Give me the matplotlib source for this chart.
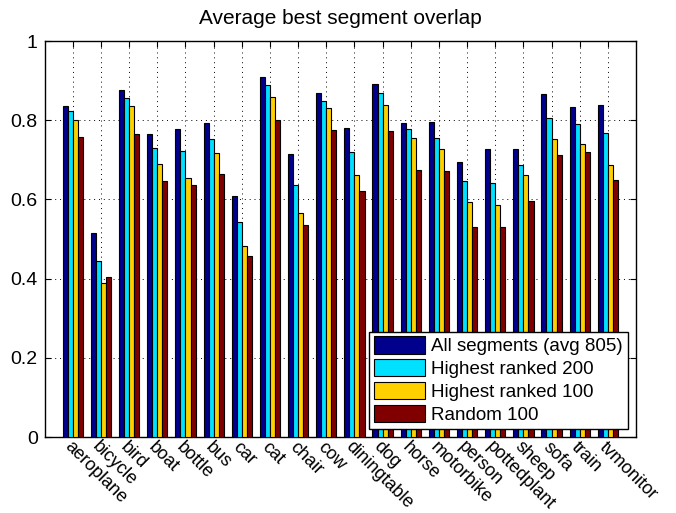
import numpy as np
import matplotlib
matplotlib.use("Agg")
import matplotlib.pyplot as plt

plt.rcParams['font.family'] = ['Liberation Sans', 'DejaVu Sans']

categories = ["aeroplane", "bicycle", "bird", "boat", "bottle", "bus", "car",
              "cat", "chair", "cow", "diningtable", "dog", "horse", "motorbike",
              "person", "pottedplant", "sheep", "sofa", "train", "tvmonitor"]

all_segments = [0.835, 0.514, 0.876, 0.765, 0.779, 0.792, 0.608, 0.910, 0.715, 0.868,
                0.781, 0.891, 0.794, 0.795, 0.695, 0.727, 0.727, 0.866, 0.834, 0.838]
top200 = [0.824, 0.445, 0.856, 0.731, 0.723, 0.753, 0.542, 0.888, 0.636, 0.849,
          0.719, 0.869, 0.777, 0.755, 0.646, 0.641, 0.687, 0.805, 0.790, 0.768]
top100 = [0.800, 0.389, 0.836, 0.689, 0.655, 0.717, 0.482, 0.859, 0.565, 0.831,
          0.661, 0.838, 0.755, 0.727, 0.593, 0.585, 0.661, 0.752, 0.741, 0.688]
random100 = [0.758, 0.404, 0.765, 0.646, 0.636, 0.664, 0.456, 0.800, 0.535, 0.776,
             0.620, 0.772, 0.673, 0.672, 0.530, 0.531, 0.595, 0.712, 0.719, 0.648]

series = [all_segments, top200, top100, random100]
labels = ["All segments (avg 805)", "Highest ranked 200",
          "Highest ranked 100", "Random 100"]
colors = ["#00008C", "#00E0FF", "#FFD000", "#800000"]

yticks = [0, 0.2, 0.4, 0.6, 0.8, 1]
ytick_labels = ["0", "0.2", "0.4", "0.6", "0.8", "1"]

fig = plt.figure(figsize=(6.76, 5.13), dpi=100)
ax = fig.add_axes([44.7 / 676, 1 - 437 / 513, (636 - 44.7) / 676, (437 - 41) / 513])

x = np.arange(1, len(categories) + 1)
bw = 0.18
for i, (vals, lab, col) in enumerate(zip(series, labels, colors)):
    ax.bar(x + (i - 1.5) * bw, vals, width=bw, color=col, edgecolor="black",
           linewidth=0.8, label=lab, zorder=3)

ax.set_xlim(0, 21)
ax.set_ylim(0, 1)
ax.set_xticks(x)
ax.set_xticklabels(categories, rotation=-45, ha="left", va="top",
                   rotation_mode="anchor", fontsize=13)
ax.set_yticks(yticks)
ax.set_yticklabels(ytick_labels, fontsize=14)
ax.tick_params(direction="in", length=4, top=True, right=True, width=0.8, pad=5)
ax.tick_params(axis="x", pad=1)
ax.grid(True, linestyle=(0, (1, 4)), color="black", linewidth=0.7, zorder=0)
for s in ax.spines.values():
    s.set_linewidth(1.0)

ax.set_title("Average best segment overlap", fontsize=15, pad=12)

leg = ax.legend(loc="lower right", fontsize=13.5, fancybox=False, framealpha=1,
                edgecolor="black", borderaxespad=0.45, handlelength=2.7,
                handleheight=1.05, handletextpad=0.35, labelspacing=0.2,
                borderpad=0.25)
leg.get_frame().set_linewidth(1.0)

fig.savefig("out.png", dpi=100)
